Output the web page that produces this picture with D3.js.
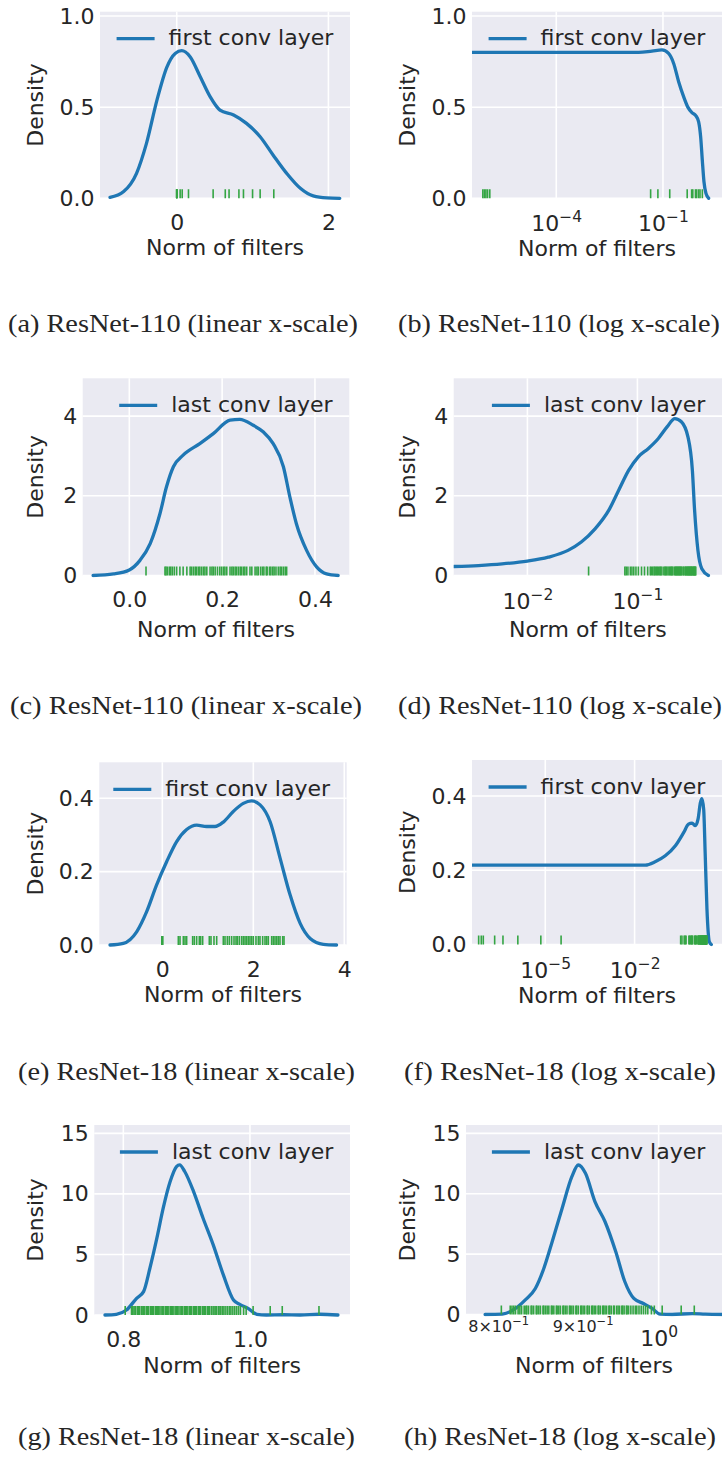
<!DOCTYPE html>
<html>
<head>
<meta charset="utf-8">
<script src="https://cdn.jsdelivr.net/npm/d3@7"></script>
<style>
  body { margin: 0; background: #fff; }
  svg text { fill: #262626; }
  .caption { font-family: "Liberation Serif", "DejaVu Serif", serif; }
</style>
</head>
<body>
<svg id="fig" width="724" height="1459"></svg>
<script>
// ---- rug data: filter norms ----
const rugR110First = [8.6e-7, 9.5e-7, 1.05e-6, 1.17e-6, 1.35e-6, 0.045, 0.072, 0.155, 0.48, 0.64, 0.69, 0.82, 0.88, 1.0, 1.1, 1.28];

const rugR110Last = [0.036, 0.0769, 0.0791, 0.082, 0.0863, 0.0892, 0.0927, 0.097, 0.102, 0.109, 0.116, 0.124, 0.131,
  0.134, 0.138, 0.142, 0.145, 0.149, 0.152, 0.156, 0.160, 0.163, 0.167, 0.174, 0.178, 0.181, 0.185, 0.190, 0.195,
  0.199, 0.203, 0.206, 0.210, 0.217, 0.221, 0.224, 0.228, 0.231, 0.235, 0.239, 0.242, 0.246, 0.249, 0.253, 0.260,
  0.264, 0.271, 0.275, 0.278, 0.283, 0.287, 0.290, 0.295, 0.297, 0.302, 0.305, 0.309, 0.312, 0.316, 0.321, 0.325,
  0.328, 0.332, 0.336, 0.339];

const rugR18First = [5.8e-8, 7.1e-8, 8.3e-8, 2.0e-7, 3.8e-7, 1.2e-6, 7.1e-6, 3.4e-5,
  0.352, 0.389, 0.462, 0.499, 0.535, 0.667, 0.704, 0.755, 0.813, 0.843, 0.887, 1.033, 1.07, 1.136, 1.195, 1.341,
  1.378, 1.429, 1.473, 1.524, 1.576, 1.62, 1.649, 1.693, 1.744, 1.781, 1.818, 1.854, 1.891, 1.927, 1.964, 2.0,
  2.059, 2.11, 2.147, 2.206, 2.257, 2.294, 2.33, 2.404, 2.44, 2.477, 2.514, 2.55, 2.587, 2.646, 2.675];

const rugR18Last = [0.803, 0.813, 0.815, 0.817, 0.819, 0.822, 0.824, 0.826, 0.829, 0.831, 0.832, 0.834, 0.837,
  0.838, 0.840, 0.843, 0.844, 0.846, 0.848, 0.851, 0.852, 0.854, 0.856, 0.858, 0.861, 0.862, 0.864, 0.867, 0.868,
  0.870, 0.872, 0.875, 0.876, 0.878, 0.880, 0.883, 0.884, 0.886, 0.888, 0.891, 0.892, 0.894, 0.897, 0.898, 0.900,
  0.902, 0.905, 0.906, 0.908, 0.911, 0.912, 0.914, 0.916, 0.919, 0.920, 0.922, 0.925, 0.926, 0.928, 0.930, 0.933,
  0.934, 0.936, 0.939, 0.940, 0.943, 0.945, 0.947, 0.950, 0.951, 0.953, 0.956, 0.957, 0.959, 0.962, 0.965, 0.968,
  0.970, 0.973, 0.976, 0.979, 0.982, 0.985, 0.990, 0.994, 1.005, 1.032, 1.051, 1.109];

// ---- density curves [norm, density] ----
const kdeR110First = [[-0.88, 0.005], [-0.70, 0.037], [-0.53, 0.137], [-0.40, 0.30], [-0.26, 0.54], [-0.13, 0.72],
  [-0.02, 0.795], [0.066, 0.81], [0.176, 0.777], [0.31, 0.667], [0.44, 0.558], [0.57, 0.484], [0.75, 0.457],
  [0.92, 0.411], [1.10, 0.338], [1.27, 0.238], [1.45, 0.137], [1.63, 0.055], [1.80, 0.013], [1.98, 0.002], [2.15, 0]];

const kdeR110FirstLog = [[4.25e-7, 0.801], [0.0207, 0.801], [0.0491, 0.808], [0.0938, 0.814], [0.144, 0.795],
  [0.200, 0.740], [0.276, 0.640], [0.381, 0.558], [0.505, 0.499], [0.654, 0.470], [0.847, 0.452], [1.007, 0.420],
  [1.146, 0.338], [1.276, 0.210], [1.422, 0.091], [1.619, 0.027], [1.923, 0]];

const kdeR110Last = [[-0.078, 0], [-0.034, 0.04], [0, 0.14], [0.023, 0.38], [0.045, 0.8], [0.066, 1.55], [0.08, 2.22],
  [0.095, 2.73], [0.116, 3.02], [0.152, 3.31], [0.181, 3.56], [0.217, 3.9], [0.238, 3.92], [0.267, 3.77],
  [0.289, 3.6], [0.31, 3.31], [0.332, 2.73], [0.346, 1.97], [0.36, 1.3], [0.382, 0.63], [0.404, 0.21],
  [0.425, 0.04], [0.45, 0]];

const kdeR110LastLog = [[0.00214, 0.226], [0.00359, 0.25], [0.00589, 0.29], [0.01, 0.36], [0.0155, 0.46],
  [0.0234, 0.63], [0.0309, 0.84], [0.0412, 1.17], [0.055, 1.64], [0.0676, 2.14], [0.0832, 2.64], [0.102, 2.98],
  [0.126, 3.19], [0.155, 3.44], [0.186, 3.73], [0.219, 3.94], [0.251, 3.86], [0.288, 3.48], [0.316, 2.64],
  [0.331, 1.64], [0.355, 0.63], [0.385, 0.17], [0.442, 0]];

const kdeR18First = [[-1.15, 0], [-0.857, 0.0045], [-0.564, 0.036], [-0.344, 0.091], [-0.125, 0.164], [0.095, 0.227],
  [0.315, 0.282], [0.535, 0.315], [0.755, 0.327], [0.974, 0.323], [1.157, 0.323], [1.34, 0.335], [1.56, 0.364],
  [1.78, 0.386], [1.96, 0.393], [2.15, 0.382], [2.37, 0.336], [2.59, 0.236], [2.81, 0.136], [3.03, 0.059],
  [3.25, 0.018], [3.54, 0.002], [3.83, 0]];

const kdeR18FirstLog = [[3.47e-8, 0.214], [0.0229, 0.214], [0.049, 0.223], [0.107, 0.239], [0.234, 0.266],
  [0.447, 0.302], [0.646, 0.324], [0.851, 0.327], [1.096, 0.32], [1.349, 0.3375], [1.622, 0.382], [1.82, 0.393],
  [2.09, 0.364], [2.34, 0.248], [2.69, 0.096], [3.24, 0.007], [3.76, 0]];

const kdeR18Last = [[0.771, 0], [0.789, 0.06], [0.805, 0.41], [0.821, 1.38], [0.832, 1.93], [0.842, 3.86],
  [0.853, 6.34], [0.863, 8.82], [0.874, 11.02], [0.884, 12.26], [0.889, 12.4], [0.897, 11.85], [0.911, 10.19],
  [0.926, 7.99], [0.942, 5.79], [0.958, 3.31], [0.974, 1.24], [0.984, 0.88], [0.997, 0.55], [1.011, 0.06],
  [1.026, 0], [1.053, 0.02], [1.079, 0], [1.11, 0.06], [1.139, 0]];

const kdeR18LastLog = [[0.785, 0], [0.804, 0.03], [0.819, 0.5], [0.830, 1.19], [0.842, 2.15], [0.852, 3.81],
  [0.862, 6.02], [0.874, 8.78], [0.886, 11.41], [0.894, 12.38], [0.903, 11.69], [0.915, 9.34], [0.928, 7.68],
  [0.942, 5.19], [0.954, 2.71], [0.966, 1.33], [0.979, 0.91], [0.991, 0.5], [1.002, 0.03], [1.019, 0],
  [1.048, 0.08], [1.067, 0.03], [1.095, 0]];

// ---- tick values and labels ----
const legendFirst = 'first conv layer';
const legendLast = 'last conv layer';
const captions = [
  '(a) ResNet-110 (linear x-scale)', '(b) ResNet-110 (log x-scale)',
  '(c) ResNet-110 (linear x-scale)', '(d) ResNet-110 (log x-scale)',
  '(e) ResNet-18 (linear x-scale)', '(f) ResNet-18 (log x-scale)',
  '(g) ResNet-18 (linear x-scale)', '(h) ResNet-18 (log x-scale)'
];
const yTicksRow1 = [0, 0.5, 1.0];
const yTicksRow2 = [0, 2, 4];
const yTicksRow3 = [0, 0.2, 0.4];
const yTicksRow4 = [0, 5, 10, 15];

// ---- panel layout ----
const panels = [
  { curve: kdeR110First, rug: rugR110First, legend: legendFirst, caption: captions[0],
    box: [100, 350, 11.7, 198.3], xDomain: [-1.012, 2.285], yMax: 1.024,
    xTicks: [0, 2], xFmt: d3.format('d'), yTicks: yTicksRow1, yFmt: d3.format('.1f'),
    densX: 35, titleDy: 57, cap: [8, 332, 350] },
  { log: true, curve: kdeR110FirstLog, rug: rugR110First, legend: legendFirst, caption: captions[1],
    box: [472, 722, 11.7, 198.3], xDomain: [Math.pow(10, -6.37), Math.pow(10, 0.66)], yMax: 1.024,
    xTicks: [1e-4, 1e-1], yTicks: yTicksRow1, yFmt: d3.format('.1f'),
    densX: 407, titleDy: 58, cap: [398, 332, 322] },
  { curve: kdeR110Last, rug: rugR110Last, legend: legendLast, caption: captions[2],
    box: [82.7, 349.3, 378.3, 575.5], xDomain: [-0.1004, 0.474], yMax: 4.95,
    xTicks: [0, 0.2, 0.4], xFmt: d3.format('.1f'), yTicks: yTicksRow2, yFmt: d3.format('d'),
    densX: 35, titleDy: 61, cap: [10, 714, 352] },
  { log: true, curve: kdeR110LastLog, rug: rugR110Last, legend: legendLast, caption: captions[3],
    box: [453.7, 722, 378.3, 575.5], xDomain: [Math.pow(10, -2.67), Math.pow(10, -0.231)], yMax: 4.95,
    xTicks: [1e-2, 1e-1], yTicks: yTicksRow2, yFmt: d3.format('d'),
    densX: 407, titleDy: 61, cap: [398, 714, 324] },
  { curve: kdeR18First, rug: rugR18First, legend: legendFirst, caption: captions[4],
    box: [99.3, 346.7, 762.3, 945], xDomain: [-1.385, 4.053], yMax: 0.498,
    xTicks: [0, 2, 4], xFmt: d3.format('d'), yTicks: yTicksRow3, yFmt: d3.format('.1f'),
    densX: 35, titleDy: 57, cap: [18, 1080, 337] },
  { log: true, curve: kdeR18FirstLog, rug: rugR18First, legend: legendFirst, caption: captions[5],
    box: [472, 722, 760, 944.5], xDomain: [Math.pow(10, -7.46), Math.pow(10, 0.935)], yMax: 0.497,
    xTicks: [1e-5, 1e-2], yTicks: yTicksRow3, yFmt: d3.format('.1f'),
    densX: 407, titleDy: 58, cap: [404, 1080, 312] },
  { curve: kdeR18Last, rug: rugR18Last, legend: legendLast, caption: captions[6],
    box: [94.3, 350, 1125, 1315], xDomain: [0.7542, 1.158], yMax: 15.69,
    xTicks: [0.8, 1.0], xFmt: d3.format('.1f'), yTicks: yTicksRow4, yFmt: d3.format('d'),
    densX: 35, titleDy: 58, cap: [18, 1445, 337] },
  { log: true, curve: kdeR18LastLog, rug: rugR18Last, legend: legendLast, caption: captions[7],
    box: [466, 722, 1125, 1314.5], xDomain: [Math.pow(10, -0.1167), Math.pow(10, 0.0384)], yMax: 15.69,
    xTicks: [1], minorTicks: [0.8, 0.9], yTicks: yTicksRow4, yFmt: d3.format('d'),
    densX: 407, titleDy: 58, cap: [404, 1445, 312] }
];

const svg = d3.select('#fig');
const sans = '"DejaVu Sans", "Liberation Sans", sans-serif';
const bg = '#eaeaf2';
const lineColor = '#1f77b4';
const rugColor = '#34a543';

function supLabel(text, base, exp, size) {
  text.append('tspan').text(base);
  text.append('tspan').attr('font-size', size).attr('dy', -9).text(exp);
}

function expString(d) {
  const e = Math.round(Math.log10(d));
  return e < 0 ? '\u2212' + (-e) : String(e);
}

panels.forEach((p, i) => {
  const [left, right, top, bottom] = p.box;
  const x = (p.log ? d3.scaleLog() : d3.scaleLinear()).domain(p.xDomain).range([left, right]);
  const y = d3.scaleLinear().domain([0, p.yMax]).range([bottom, top]);
  const g = svg.append('g').attr('font-family', sans);

  g.append('rect')
    .attr('x', left).attr('y', top)
    .attr('width', right - left).attr('height', bottom - top)
    .attr('fill', bg);

  // grid
  g.append('g').selectAll('line').data(p.yTicks).join('line')
    .attr('x1', left).attr('x2', right)
    .attr('y1', d => y(d)).attr('y2', d => y(d))
    .attr('stroke', '#fff').attr('stroke-width', 1.6);
  g.append('g').selectAll('line').data(p.xTicks).join('line')
    .attr('x1', d => x(d)).attr('x2', d => x(d))
    .attr('y1', top).attr('y2', bottom)
    .attr('stroke', '#fff').attr('stroke-width', 1.6);

  const clipId = 'clip' + i;
  svg.append('clipPath').attr('id', clipId).append('rect')
    .attr('x', left).attr('y', top - 4)
    .attr('width', right - left).attr('height', bottom - top + 6);
  const plot = g.append('g').attr('clip-path', `url(#${clipId})`);

  const line = d3.line()
    .x(d => x(d[0]))
    .y(d => y(d[1]))
    .curve(d3.curveMonotoneX);

  plot.append('path')
    .datum(p.curve)
    .attr('fill', 'none')
    .attr('stroke', lineColor)
    .attr('stroke-width', 3.3)
    .attr('stroke-linejoin', 'round')
    .attr('stroke-linecap', 'round')
    .attr('d', line);

  const [d0, d1] = x.domain();
  plot.append('g').selectAll('line')
    .data(p.rug.filter(v => v >= d0 && v <= d1))
    .join('line')
    .attr('x1', d => x(d)).attr('x2', d => x(d))
    .attr('y1', bottom).attr('y2', bottom - 9)
    .attr('stroke', rugColor).attr('stroke-width', 1.6);

  // y axis
  g.append('g')
    .attr('transform', `translate(${left},0)`)
    .call(d3.axisLeft(y).tickValues(p.yTicks).tickFormat(p.yFmt).tickSize(0).tickPadding(5.5))
    .call(a => a.select('.domain').remove())
    .attr('font-size', 22).attr('font-family', sans).attr('color', '#262626');

  // x axis
  const xa = g.append('g')
    .attr('transform', `translate(0,${bottom})`)
    .call(d3.axisBottom(x).tickValues(p.xTicks)
      .tickFormat(p.log ? () => '' : p.xFmt).tickSize(0).tickPadding(16))
    .call(a => a.select('.domain').remove())
    .attr('font-size', 22).attr('font-family', sans).attr('color', '#262626');

  if (p.log) {
    xa.selectAll('.tick text').each(function (d) {
      const t = d3.select(this).attr('y', 33).attr('dy', null);
      supLabel(t, '10', expString(d), 15.5);
    });
    if (p.minorTicks) {
      g.append('g').selectAll('text').data(p.minorTicks).join('text')
        .attr('x', d => x(d)).attr('y', bottom + 17)
        .attr('text-anchor', 'middle').attr('font-size', 16)
        .each(function (d) {
          const t = d3.select(this);
          const e = Math.floor(Math.log10(d));
          const m = Math.round(d / Math.pow(10, e));
          t.append('tspan').text(m + '\u00d710');
          t.append('tspan').attr('font-size', 11.5).attr('dy', -7).text(expString(Math.pow(10, e)));
        });
      xa.selectAll('.tick text').attr('y', 31);
    }
  }

  // axis titles
  g.append('text')
    .attr('x', (left + right) / 2).attr('y', bottom + p.titleDy)
    .attr('text-anchor', 'middle').attr('font-size', 22)
    .text('Norm of filters');
  g.append('text')
    .attr('transform', `translate(${p.densX},${(top + bottom) / 2}) rotate(-90)`)
    .attr('text-anchor', 'middle').attr('dy', '0.35em').attr('font-size', 22)
    .text('Density');

  // legend
  const legY = top + 27;
  const lt = g.append('text')
    .attr('x', right - 16.7).attr('y', legY + 6.5)
    .attr('text-anchor', 'end').attr('font-size', 22)
    .text(p.legend);
  const w = lt.node().getComputedTextLength();
  g.append('line')
    .attr('x1', right - 16.7 - w - 14 - 38).attr('x2', right - 16.7 - w - 14)
    .attr('y1', legY).attr('y2', legY)
    .attr('stroke', lineColor).attr('stroke-width', 3.3);

  // caption
  svg.append('text')
    .attr('class', 'caption')
    .attr('x', p.cap[0]).attr('y', p.cap[1])
    .attr('font-size', 25)
    .attr('textLength', p.cap[2]).attr('lengthAdjust', 'spacingAndGlyphs')
    .text(p.caption);
});
</script>
</body>
</html>
